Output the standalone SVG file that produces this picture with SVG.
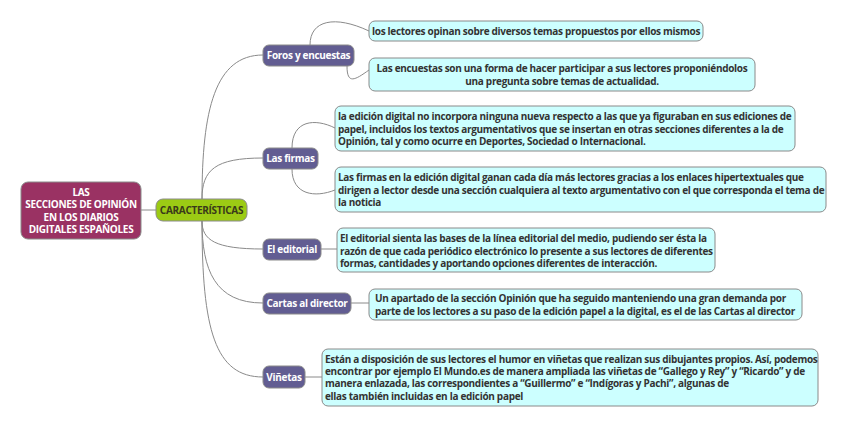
<svg xmlns="http://www.w3.org/2000/svg" width="848" height="428" viewBox="0 0 848 428">
<style>
text{font-family:"Open Sans","DejaVu Sans",sans-serif;font-weight:bold;font-size:10px;letter-spacing:-0.3px}
.leaf rect{fill:#ccffff;stroke:#8a8a8a;stroke-width:1}
.leaf text{fill:#333}
.sub rect{fill:#625d92;stroke:#8a8a8a;stroke-width:1}
.sub text{fill:#fff}
.edges path{fill:none;stroke:#8a8a8a;stroke-width:1}
</style>
<rect width="848" height="428" fill="#fff"/>
<g class="edges">
<path d="M141,210 H156"/>
<path d="M202,199 C202,110 215,55 263,55"/>
<path d="M202,199 C202,170 215,158 263,158"/>
<path d="M202,221 C202,240 215,249 263,249"/>
<path d="M202,221 C202,270 215,303 263,303"/>
<path d="M202,221 C202,330 215,377 263,377"/>
<path d="M310,45 C310,20 335,15 369,31"/>
<path d="M347,66 C347,85 355,80 369,70"/>
<path d="M292,148 C292,120 315,118 335,128"/>
<path d="M292,169 C292,195 315,198 335,190"/>
<path d="M321,249 H337"/>
<path d="M351,303 H369"/>
<path d="M305,377 H322"/>
</g>
<g id="root">
<rect x="21" y="182" width="120" height="57" rx="7" fill="#9a3263" stroke="#8a8a8a"/>
<text x="81" y="196" fill="#fff" text-anchor="middle">LAS</text>
<text x="81" y="208" fill="#fff" text-anchor="middle">SECCIONES DE OPINIÓN</text>
<text x="81" y="221" fill="#fff" text-anchor="middle">EN LOS DIARIOS</text>
<text x="81" y="233" fill="#fff" text-anchor="middle">DIGITALES ESPAÑOLES</text>
</g>
<g id="caracteristicas">
<rect x="156" y="199" width="91" height="22" rx="7" fill="#9ccb14" stroke="#8a8a8a"/>
<text x="201.5" y="214" fill="#3a3a1a" text-anchor="middle">CARACTERÍSTICAS</text>
</g>
<g id="foros" class="sub">
<rect x="263" y="45" width="91" height="21" rx="6"/>
<text x="308.5" y="59" text-anchor="middle">Foros y encuestas</text>
</g>
<g id="firmas" class="sub">
<rect x="263" y="148" width="55" height="21" rx="6"/>
<text x="290.5" y="162" text-anchor="middle">Las firmas</text>
</g>
<g id="editorial" class="sub">
<rect x="263" y="239" width="58" height="21" rx="6"/>
<text x="292" y="253" text-anchor="middle">El editorial</text>
</g>
<g id="cartas" class="sub">
<rect x="263" y="293" width="88" height="21" rx="6"/>
<text x="307" y="307" text-anchor="middle">Cartas al director</text>
</g>
<g id="vinetas" class="sub">
<rect x="263" y="366" width="42" height="22" rx="6"/>
<text x="284" y="381" text-anchor="middle">Viñetas</text>
</g>
<g id="leaf1" class="leaf">
<rect x="369" y="21" width="334" height="20" rx="6"/>
<text x="372" y="35">los lectores opinan sobre diversos temas propuestos por ellos mismos</text>
</g>
<g id="leaf2" class="leaf">
<rect x="369" y="58" width="386" height="33" rx="6"/>
<text x="562" y="72" text-anchor="middle">Las encuestas son una forma de hacer participar a sus lectores proponiéndolos</text>
<text x="562" y="85" text-anchor="middle">una pregunta sobre temas de actualidad.</text>
</g>
<g id="leaf3" class="leaf">
<rect x="335" y="106" width="460" height="45" rx="6"/>
<text x="338" y="120">la edición digital no incorpora ninguna nueva respecto a las que ya figuraban en sus ediciones de</text>
<text x="338" y="133">papel, incluidos los textos argumentativos que se insertan en otras secciones diferentes a la de</text>
<text x="338" y="145">Opinión, tal y como ocurre en Deportes, Sociedad o Internacional.</text>
</g>
<g id="leaf4" class="leaf">
<rect x="335" y="167" width="491" height="45" rx="6"/>
<text x="338" y="181">Las firmas en la edición digital ganan cada día más lectores gracias a los enlaces hipertextuales que</text>
<text x="338" y="194">dirigen a lector desde una sección cualquiera al texto argumentativo con el que corresponda el tema de</text>
<text x="338" y="206">la noticia</text>
</g>
<g id="leaf5" class="leaf">
<rect x="337" y="228" width="378" height="44" rx="6"/>
<text x="340" y="242">El editorial sienta las bases de la línea editorial del medio, pudiendo ser ésta la</text>
<text x="340" y="255">razón de que cada periódico electrónico lo presente a sus lectores de diferentes</text>
<text x="340" y="267">formas, cantidades y aportando opciones diferentes de interacción.</text>
</g>
<g id="leaf6" class="leaf">
<rect x="369" y="289" width="433" height="31" rx="6"/>
<text x="375" y="302">Un apartado de la sección Opinión que ha seguido manteniendo una gran demanda por</text>
<text x="375" y="315">parte de los lectores a su paso de la edición papel a la digital, es el de las Cartas al director</text>
</g>
<g id="leaf7" class="leaf">
<rect x="322" y="349" width="496" height="57" rx="6"/>
<text x="325" y="363">Están a disposición de sus lectores el humor en viñetas que realizan sus dibujantes propios. Así, podemos</text>
<text x="325" y="375">encontrar por ejemplo El Mundo.es de manera ampliada las viñetas de “Gallego y Rey” y “Ricardo” y de</text>
<text x="325" y="387">manera enlazada, las correspondientes a “Guillermo” e “Indígoras y Pachi”, algunas de</text>
<text x="325" y="400">ellas también incluidas en la edición papel</text>
</g>
</svg>
